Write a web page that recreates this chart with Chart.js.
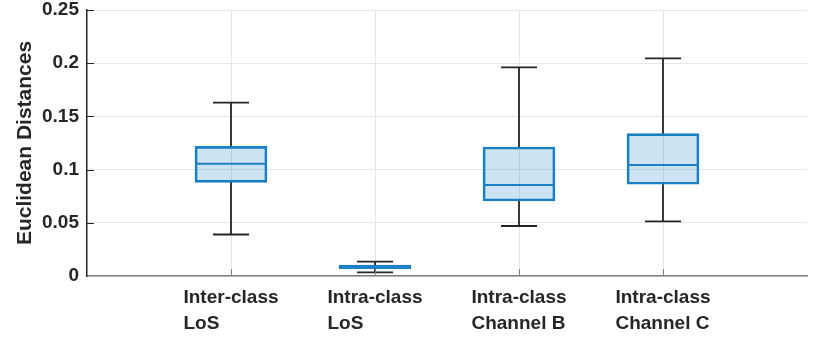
<!DOCTYPE html>
<html>
<head>
<meta charset="utf-8">
<script src="https://cdn.jsdelivr.net/npm/chart.js@4"></script>
<style>
  body { margin: 0; background: #fff; }
  #wrap { width: 830px; height: 343px; }
</style>
</head>
<body>
<div id="wrap"><canvas id="myChart"></canvas></div>
<script>
// box plot values
var categories = [
    ['Inter-class', 'LoS'],
    ['Intra-class', 'LoS'],
    ['Intra-class', 'Channel B'],
    ['Intra-class', 'Channel C']
];
var whiskerLow  = [0.039, 0.0035, 0.047, 0.0514];
var q1          = [0.088, 0.0069, 0.0705, 0.0862];
var median      = [0.1056, 0.0088, 0.0855, 0.1043];
var q3          = [0.1219, 0.0103, 0.1212, 0.1338];
var whiskerHigh = [0.163, 0.0135, 0.196, 0.2046];
var yTickLabels = ['0', '0.05', '0.1', '0.15', '0.2', '0.25'];

var textColor = '#262626';
var boxEdge = '#1a7fc6';
var font = 'bold 19px "Liberation Sans", Arial, sans-serif';

// blank slots at both ends so the boxes sit at 1..4 on a 0..5 axis
var labels = [''].concat(categories.map(c => c.join(' '))).concat(['']);
var boxes = [null].concat(q1.map((v, i) => [v, q3[i]])).concat([null]);

var boxPlugin = {
    id: 'boxExtras',
    afterDatasetsDraw: function(chart) {
        var ctx = chart.ctx;
        var x = chart.scales.x;
        var y = chart.scales.y;
        var unit = x.getPixelForValue(1) - x.getPixelForValue(0);
        var capHalf = unit * 0.125;
        var boxHalf = unit * 0.25;
        ctx.save();

        // whiskers
        ctx.strokeStyle = textColor;
        ctx.lineWidth = 1.8;
        categories.forEach((c, i) => {
            var cx = x.getPixelForValue(i + 1);
            ctx.beginPath();
            ctx.moveTo(cx, y.getPixelForValue(whiskerHigh[i]));
            ctx.lineTo(cx, y.getPixelForValue(q3[i]));
            ctx.moveTo(cx, y.getPixelForValue(q1[i]));
            ctx.lineTo(cx, y.getPixelForValue(whiskerLow[i]));
            ctx.moveTo(cx - capHalf, y.getPixelForValue(whiskerHigh[i]));
            ctx.lineTo(cx + capHalf, y.getPixelForValue(whiskerHigh[i]));
            ctx.moveTo(cx - capHalf, y.getPixelForValue(whiskerLow[i]));
            ctx.lineTo(cx + capHalf, y.getPixelForValue(whiskerLow[i]));
            ctx.stroke();
        });

        // medians
        ctx.strokeStyle = boxEdge;
        ctx.lineWidth = 2;
        categories.forEach((c, i) => {
            var cx = x.getPixelForValue(i + 1);
            var my = y.getPixelForValue(median[i]);
            ctx.beginPath();
            ctx.moveTo(cx - boxHalf, my);
            ctx.lineTo(cx + boxHalf, my);
            ctx.stroke();
        });

        // inner tick marks
        ctx.lineWidth = 1;
        ctx.strokeStyle = '#808080';
        categories.forEach((c, i) => {
            var cx = Math.round(x.getPixelForValue(i + 1)) + 0.5;
            ctx.beginPath();
            ctx.moveTo(cx, y.bottom);
            ctx.lineTo(cx, y.bottom - 7);
            ctx.stroke();
        });
        ctx.strokeStyle = textColor;
        yTickLabels.forEach((t, i) => {
            if (i === 0) return;
            var py = Math.round(y.getPixelForValue(i * 0.05)) + 0.5;
            ctx.beginPath();
            ctx.moveTo(x.left, py);
            ctx.lineTo(x.left + 7, py);
            ctx.stroke();
        });

        // category labels, lines left aligned inside a centred block
        ctx.font = font;
        ctx.fillStyle = textColor;
        ctx.textAlign = 'left';
        ctx.textBaseline = 'middle';
        categories.forEach((c, i) => {
            var cx = x.getPixelForValue(i + 1);
            var w = Math.max.apply(null, c.map(s => ctx.measureText(s).width));
            c.forEach((line, j) => {
                ctx.fillText(line, cx - w / 2, y.bottom + 22 + j * 26);
            });
        });
        ctx.restore();
    }
};

var ctx = document.getElementById('myChart');
var myChart = new Chart(ctx, {
    type: 'bar',
    data: {
        labels: labels,
        datasets: [{
            data: boxes,
            backgroundColor: 'rgba(0, 114, 189, 0.2)',
            borderColor: boxEdge,
            borderWidth: 2,
            borderSkipped: false,
            barThickness: 72
        }]
    },
    options: {
        responsive: true,
        maintainAspectRatio: false,
        animation: false,
        layout: { padding: { top: 10, right: 23, left: 0, bottom: 0 } },
        plugins: {
            legend: { display: false },
            tooltip: { enabled: false }
        },
        scales: {
            x: {
                offset: false,
                grid: {
                    offset: false,
                    drawTicks: false,
                    color: c => (c.index === 0 || c.index === labels.length - 1) ? 'rgba(0,0,0,0)' : '#e6e6e6'
                },
                border: { color: '#808080', width: 1.5 },
                ticks: { display: false },
                afterFit: function(scale) {
                    scale.height = 67;
                    scale.paddingLeft = 0;
                    scale.paddingRight = 0;
                }
            },
            y: {
                min: 0,
                max: 0.25,
                grid: { drawTicks: false, color: '#e6e6e6' },
                border: { color: textColor, width: 1.5 },
                ticks: {
                    stepSize: 0.05,
                    padding: 8,
                    color: textColor,
                    font: { family: '"Liberation Sans", Arial, sans-serif', size: 19, weight: 'bold', lineHeight: 1 },
                    callback: (v, i) => yTickLabels[i]
                },
                title: {
                    display: true,
                    text: 'Euclidean Distances',
                    color: textColor,
                    padding: { top: 13, bottom: 0 },
                    font: { family: '"Liberation Sans", Arial, sans-serif', size: 21, weight: 'bold' }
                },
                afterFit: function(scale) {
                    scale.width = 87;
                    scale.paddingTop = 0;
                    scale.paddingBottom = 0;
                }
            }
        }
    },
    plugins: [boxPlugin]
});
</script>
</body>
</html>
